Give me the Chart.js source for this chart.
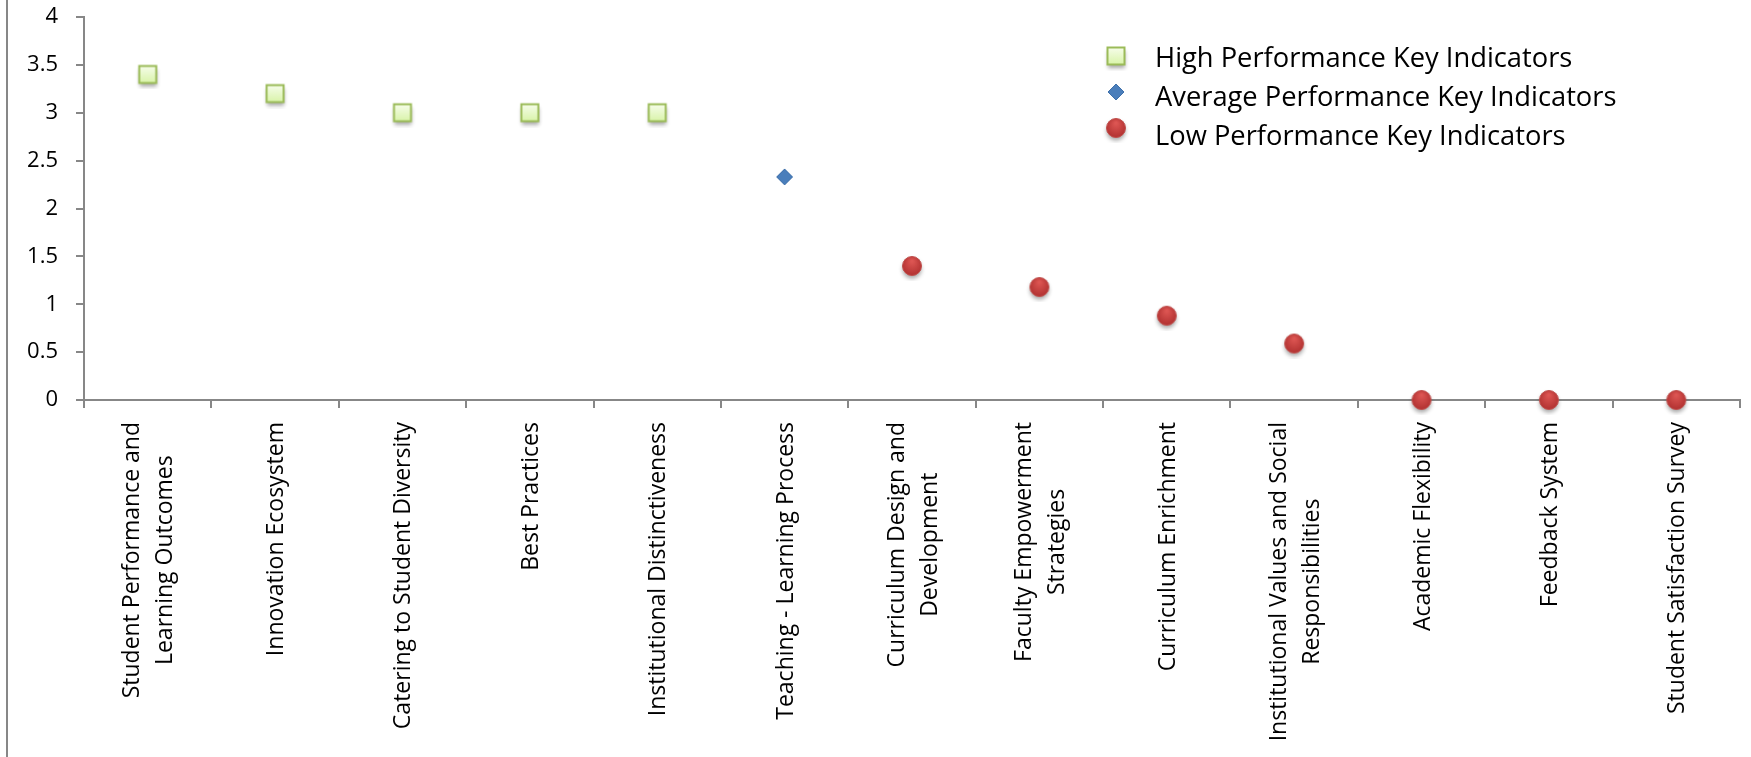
<!DOCTYPE html>
<html>
<head>
<meta charset="utf-8">
<script src="https://cdn.jsdelivr.net/npm/chart.js@4/dist/chart.umd.min.js"></script>
<style>
  html, body { margin: 0; padding: 0; background: #fff; }
</style>
</head>
<body>
<canvas id="kpiChart" width="1751" height="757"></canvas>
<script>
const categories = [
    ['Student Performance and', 'Learning Outcomes'],
    ['Innovation Ecosystem'],
    ['Catering to Student Diversity'],
    ['Best Practices'],
    ['Institutional Distinctiveness'],
    ['Teaching - Learning Process'],
    ['Curriculum Design and', 'Development'],
    ['Faculty Empowerment', 'Strategies'],
    ['Curriculum Enrichment'],
    ['Institutional Values and Social', 'Responsibilities'],
    ['Academic Flexibility'],
    ['Feedback System'],
    ['Student Satisfaction Survey']
];
const highValues = [3.4, 3.2, 3, 3, 3, null, null, null, null, null, null, null, null];
const averageValues = [null, null, null, null, null, 2.33, null, null, null, null, null, null, null];
const lowValues = [null, null, null, null, null, null, 1.4, 1.18, 0.88, 0.59, 0, 0, 0];
const seriesNames = ['High Performance Key Indicators', 'Average Performance Key Indicators', 'Low Performance Key Indicators'];

const FONT = '"Open Sans", "DejaVu Sans", sans-serif';
const AXIS_GREY = '#878787';

// small offscreen canvases used as point styles (gradient + soft shadow like the original)
function makeMarker(size, draw) {
    const c = document.createElement('canvas');
    c.width = size;
    c.height = size;
    draw(c.getContext('2d'), size / 2);
    return c;
}

const squareMarker = makeMarker(30, (g, m) => {
    const s = 8.5;
    g.shadowColor = 'rgba(0,0,0,0.35)';
    g.shadowBlur = 4;
    g.shadowOffsetY = 3;
    const grad = g.createLinearGradient(0, m - s, 0, m + s);
    grad.addColorStop(0, '#f6fdea');
    grad.addColorStop(1, '#d9f4a9');
    g.fillStyle = grad;
    g.fillRect(m - s, m - s, 2 * s, 2 * s);
    g.shadowColor = 'transparent';
    g.strokeStyle = '#9bbb59';
    g.lineWidth = 2;
    g.strokeRect(m - s, m - s, 2 * s, 2 * s);
});

const diamondMarker = makeMarker(24, (g, m) => {
    const r = 8;
    g.beginPath();
    g.moveTo(m - r, m);
    g.lineTo(m, m - r);
    g.lineTo(m + r, m);
    g.lineTo(m, m + r);
    g.closePath();
    g.fillStyle = '#4a7ebb';
    g.fill();
    g.strokeStyle = '#3f70aa';
    g.lineWidth = 1;
    g.stroke();
});

const circleMarker = makeMarker(30, (g, m) => {
    const r = 9.5;
    g.shadowColor = 'rgba(0,0,0,0.35)';
    g.shadowBlur = 4;
    g.shadowOffsetY = 3;
    const grad = g.createRadialGradient(m, m - 5, 1, m, m, r + 3);
    grad.addColorStop(0, '#dc5552');
    grad.addColorStop(1, '#a82a2a');
    g.beginPath();
    g.arc(m, m, r, 0, Math.PI * 2);
    g.fillStyle = grad;
    g.fill();
    g.shadowColor = 'transparent';
    g.strokeStyle = '#c0504d';
    g.lineWidth = 1;
    g.stroke();
});

const markers = [squareMarker, diamondMarker, circleMarker];

// left frame line, vertical category labels (centred lines, Excel style) and legend
const extras = {
    id: 'extras',
    beforeDraw(chart) {
        const ctx = chart.ctx;
        ctx.save();
        ctx.fillStyle = AXIS_GREY;
        ctx.fillRect(6, 0, 2, chart.height);
        ctx.restore();
    },
    afterDraw(chart) {
        const ctx = chart.ctx;
        const xScale = chart.scales.x;
        const lineGap = 33;
        const top = 422;

        ctx.save();
        ctx.fillStyle = '#000';
        ctx.font = '23px ' + FONT;
        ctx.textAlign = 'center';
        ctx.textBaseline = 'alphabetic';
        chart.data.labels.forEach((lines, i) => {
            const cx = xScale.getPixelForTick(i);
            const blockW = Math.max(...lines.map(l => ctx.measureText(l).width));
            lines.forEach((line, j) => {
                const bx = cx + (j - (lines.length - 1) / 2) * lineGap + 8;
                ctx.save();
                ctx.translate(bx, top);
                ctx.rotate(-Math.PI / 2);
                ctx.fillText(line, -blockW / 2, 0);
                ctx.restore();
            });
        });

        // legend
        const markerY = [56, 92, 128];
        const textY = [67, 106, 145];
        ctx.font = '27.3px ' + FONT;
        ctx.textAlign = 'left';
        chart.data.datasets.forEach((ds, i) => {
            const img = markers[i];
            ctx.drawImage(img, 1116 - img.width / 2, markerY[i] - img.height / 2);
            ctx.fillText(ds.label, 1155, textY[i]);
        });
        ctx.restore();
    }
};

const ctx = document.getElementById('kpiChart').getContext('2d');
const chart = new Chart(ctx, {
    type: 'line',
    data: {
        labels: categories,
        datasets: [{
            label: seriesNames[0],
            data: highValues,
            showLine: false,
            pointStyle: squareMarker,
            pointRadius: 10,
            clip: false
        }, {
            label: seriesNames[1],
            data: averageValues,
            showLine: false,
            pointStyle: diamondMarker,
            pointRadius: 9,
            clip: false
        }, {
            label: seriesNames[2],
            data: lowValues,
            showLine: false,
            pointStyle: circleMarker,
            pointRadius: 10,
            clip: false
        }]
    },
    options: {
        responsive: false,
        animation: false,
        layout: {
            padding: { left: 0, right: 9, top: 17, bottom: 0 }
        },
        plugins: {
            legend: { display: false },
            tooltip: { enabled: false }
        },
        scales: {
            x: {
                offset: true,
                afterFit: (scale) => { scale.height = 357; },
                grid: {
                    drawOnChartArea: false,
                    offset: true,
                    tickLength: 8,
                    color: AXIS_GREY,
                    lineWidth: 2
                },
                border: { color: AXIS_GREY, width: 2 },
                ticks: { display: false }
            },
            y: {
                min: 0,
                max: 4,
                afterFit: (scale) => {
                    scale.width = 84;
                    // tick padding would otherwise push the plot top down
                    scale.paddingTop = 12;
                    scale.paddingBottom = 12;
                },
                grid: {
                    drawOnChartArea: false,
                    tickLength: 8,
                    color: AXIS_GREY,
                    lineWidth: 2
                },
                border: { color: AXIS_GREY, width: 2 },
                ticks: {
                    stepSize: 0.5,
                    padding: 18,
                    color: '#000',
                    font: { family: FONT, size: 22 },
                    callback: (value) => String(Math.round(value * 10) / 10)
                }
            }
        }
    },
    plugins: [extras]
});
</script>
</body>
</html>
